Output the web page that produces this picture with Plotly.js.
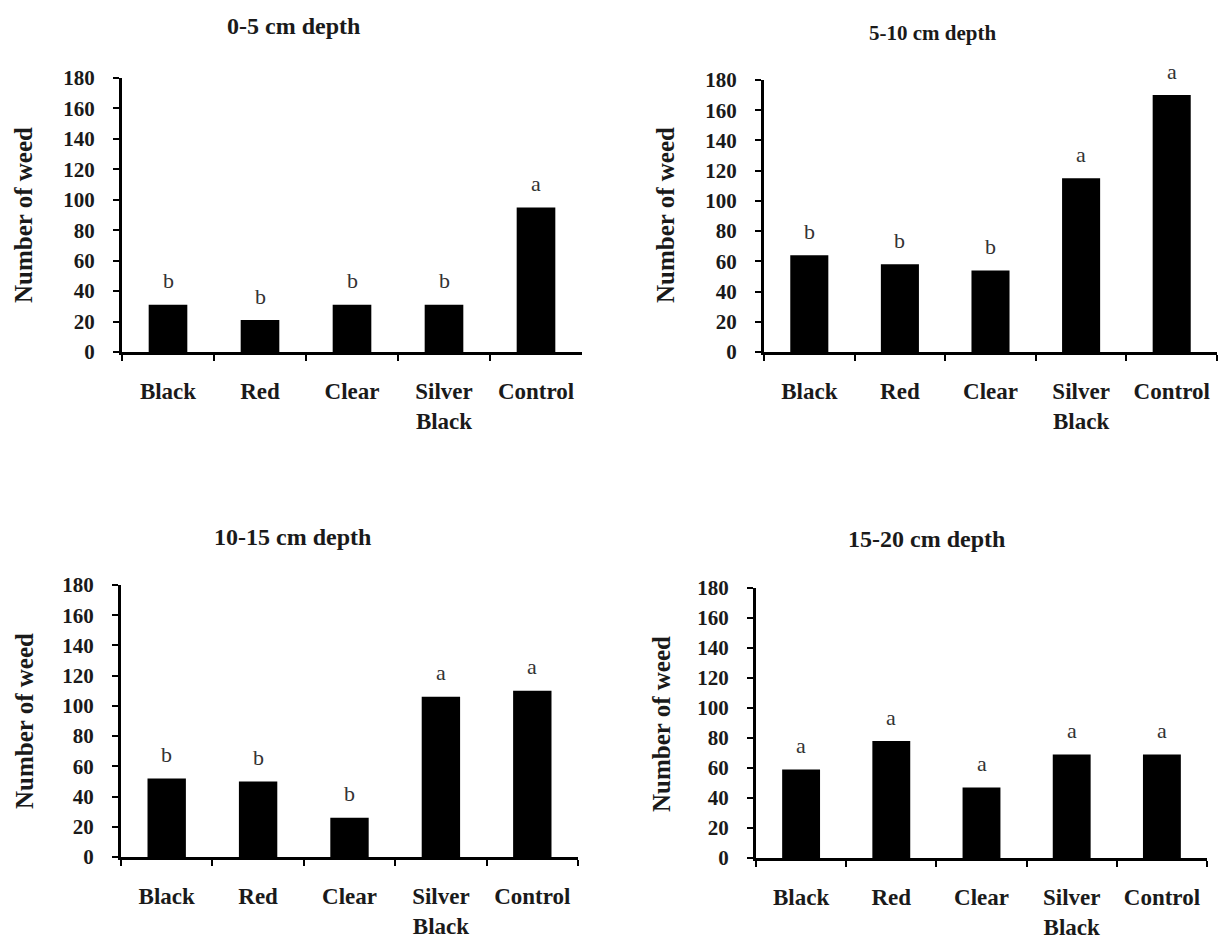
<!DOCTYPE html>
<html>
<head>
<meta charset="utf-8">
<script src="https://cdn.plot.ly/plotly-3.0.1.min.js"></script>
<style>html,body{margin:0;padding:0;background:#fff;}#chart{width:1220px;height:938px;}</style>
</head>
<body>
<div id="chart"></div>
<script>
// ---- data ----
const categories = ['Black', 'Red', 'Clear', 'Silver Black', 'Control'];
const tickLabels = ['Black', 'Red', 'Clear', 'Silver<br>Black', 'Control'];
const panelTitles = ['0-5 cm depth', '5-10 cm depth', '10-15 cm depth', '15-20 cm depth'];
const depth0_5 = [31, 21, 31, 31, 95];
const depth5_10 = [64, 58, 54, 115, 170];
const depth10_15 = [52, 50, 26, 106, 110];
const depth15_20 = [59, 78, 47, 69, 69];
const letters0_5 = ['b', 'b', 'b', 'b', 'a'];
const letters5_10 = ['b', 'b', 'b', 'a', 'a'];
const letters10_15 = ['b', 'b', 'b', 'a', 'a'];
const letters15_20 = ['a', 'a', 'a', 'a', 'a'];
const yTitle = 'Number of weed';
const yTickVals = [0, 20, 40, 60, 80, 100, 120, 140, 160, 180];

// ---- layout helpers ----
const W = 1220, H = 938;
const serif = 'Liberation Serif';
const panels = [
  {vals: depth0_5, letters: letters0_5, px: [122, 582], py: [78, 352], title: [293, 26, 24], ytitle: [24, 215]},
  {vals: depth5_10, letters: letters5_10, px: [764, 1217], py: [80, 352], title: [932, 33, 21], ytitle: [666, 215]},
  {vals: depth10_15, letters: letters10_15, px: [121, 578], py: [585, 857], title: [292, 537, 24], ytitle: [24, 721]},
  {vals: depth15_20, letters: letters15_20, px: [756, 1207], py: [588, 858], title: [926, 539, 24], ytitle: [661, 724]}
];

const traces = [];
const layout = {
  width: W, height: H,
  margin: {l: 0, r: 0, t: 0, b: 0},
  paper_bgcolor: '#fff', plot_bgcolor: '#fff',
  showlegend: false,
  bargap: 0.58,
  font: {family: serif, color: '#1a1a1a'},
  annotations: []
};

panels.forEach((p, i) => {
  const n = i + 1;
  const xa = n === 1 ? 'x' : 'x' + n;
  const ya = n === 1 ? 'y' : 'y' + n;
  traces.push({
    type: 'bar', x: categories, y: p.vals, xaxis: xa, yaxis: ya,
    marker: {color: '#000', line: {width: 0}},
    hoverinfo: 'x+y'
  });
  layout['xaxis' + (n === 1 ? '' : n)] = {
    domain: [p.px[0] / W, p.px[1] / W],
    anchor: ya,
    type: 'category',
    range: [-0.5, 4.5],
    tickmode: 'array', tickvals: categories, ticktext: tickLabels,
    tickson: 'boundaries',
    ticks: 'outside', ticklen: 6, tickwidth: 2, tickcolor: '#000',
    ticklabelstandoff: 16,
    showline: true, linecolor: '#000', linewidth: 3,
    showgrid: false, zeroline: false,
    tickfont: {family: serif, size: 23, color: '#1a1a1a', weight: 'bold'},
    fixedrange: true
  };
  layout['yaxis' + (n === 1 ? '' : n)] = {
    domain: [1 - p.py[1] / H, 1 - p.py[0] / H],
    anchor: xa,
    range: [0, 180],
    tickmode: 'array', tickvals: yTickVals,
    ticks: 'outside', ticklen: 6, tickwidth: 2, tickcolor: '#000',
    ticklabelstandoff: 14,
    showline: true, linecolor: '#000', linewidth: 3,
    showgrid: false, zeroline: false,
    tickfont: {family: serif, size: 21, color: '#1a1a1a', weight: 'bold'},
    fixedrange: true
  };
  // significance letters
  p.vals.forEach((v, k) => {
    layout.annotations.push({
      xref: xa, yref: ya, x: categories[k], y: v,
      text: p.letters[k], showarrow: false,
      yanchor: 'middle', yshift: 24,
      font: {family: serif, size: 22, color: '#333'}
    });
  });
  // panel title
  layout.annotations.push({
    xref: 'paper', yref: 'paper', x: p.title[0] / W, y: 1 - p.title[1] / H,
    xanchor: 'center', yanchor: 'middle', showarrow: false,
    text: panelTitles[i],
    font: {family: serif, size: p.title[2], color: '#1a1a1a', weight: 'bold'}
  });
  // y-axis title
  layout.annotations.push({
    xref: 'paper', yref: 'paper', x: p.ytitle[0] / W, y: 1 - p.ytitle[1] / H,
    xanchor: 'center', yanchor: 'middle', showarrow: false, textangle: -90,
    text: yTitle,
    font: {family: serif, size: 25, color: '#1a1a1a', weight: 'bold'}
  });
});

Plotly.newPlot('chart', traces, layout, {displayModeBar: false, staticPlot: true});
</script>
</body>
</html>
